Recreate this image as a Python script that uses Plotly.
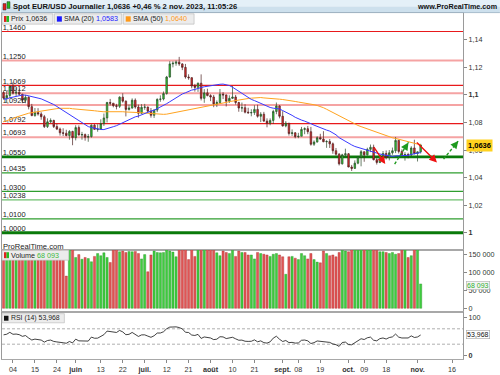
import numpy as np
import pandas as pd
import plotly.graph_objects as go

# ---------------- data ----------------
start_date = "2023-05-01"
axis_end_date = "2023-11-30"

opens = [1.1017, 1.0977, 1.0996, 1.1063, 1.1013, 1.1020, 1.1005, 1.0962, 1.0983, 1.0915,
         1.0850, 1.0872, 1.0862, 1.0842, 1.0770, 1.0805, 1.0815, 1.0770, 1.0752, 1.0725,
         1.0722, 1.0705, 1.0735, 1.0690, 1.0763, 1.0710, 1.0712, 1.0693, 1.0698, 1.0780,
         1.0750, 1.0752, 1.0792, 1.0833, 1.0945, 1.0940, 1.0922, 1.0917, 1.0984, 1.0955,
         1.0895, 1.0905, 1.0962, 1.0912, 1.0867, 1.0910, 1.0912, 1.0882, 1.0852, 1.0890,
         1.0968, 1.0970, 1.1010, 1.1130, 1.1225, 1.1230, 1.1238, 1.1225, 1.1200, 1.1130,
         1.1125, 1.1065, 1.1055, 1.1085, 1.0975, 1.1015, 1.0995, 1.0985, 1.0935, 1.0945,
         1.1005, 1.1000, 1.0955, 1.0975, 1.0985, 1.0945, 1.0905, 1.0907, 1.0875, 1.0870,
         1.0872, 1.0895, 1.0845, 1.0860, 1.0810, 1.0795, 1.0815, 1.0880, 1.0920, 1.0845,
         1.0775, 1.0795, 1.0720, 1.0725, 1.0697, 1.0700, 1.0750, 1.0755, 1.0733, 1.0642,
         1.0658, 1.0690, 1.0680, 1.0660, 1.0662, 1.0645, 1.0595, 1.0570, 1.0500, 1.0565,
         1.0573, 1.0477, 1.0467, 1.0505, 1.0550, 1.0588, 1.0565, 1.0605, 1.0620, 1.0530,
         1.0510, 1.0560, 1.0575, 1.0545, 1.0580, 1.0595, 1.0670, 1.0590, 1.0565, 1.0567,
         1.0565, 1.0615, 1.0575, 1.0587]
highs = [1.1028, 1.1030, 1.1068, 1.1092, 1.1055, 1.1046, 1.1008, 1.1000, 1.0990, 1.0935,
         1.0905, 1.0904, 1.0875, 1.0855, 1.0830, 1.0830, 1.0820, 1.0790, 1.0763, 1.0758,
         1.0747, 1.0745, 1.0740, 1.0780, 1.0779, 1.0732, 1.0720, 1.0716, 1.0787, 1.0788,
         1.0787, 1.0823, 1.0865, 1.0950, 1.0971, 1.0940, 1.0935, 1.0990, 1.1012, 1.0960,
         1.0930, 1.0975, 1.0975, 1.0930, 1.0933, 1.0935, 1.0915, 1.0905, 1.0895, 1.0975,
         1.0997, 1.1025, 1.1138, 1.1245, 1.1244, 1.1250, 1.1276, 1.1230, 1.1225, 1.1150,
         1.1128, 1.1080, 1.1090, 1.1149, 1.1042, 1.1045, 1.1005, 1.1000, 1.0960, 1.1043,
         1.1020, 1.1002, 1.0997, 1.1065, 1.1000, 1.0950, 1.0945, 1.0933, 1.0907, 1.0896,
         1.0925, 1.0929, 1.0875, 1.0877, 1.0830, 1.0830, 1.0892, 1.0945, 1.0925, 1.0882,
         1.0810, 1.0795, 1.0750, 1.0730, 1.0725, 1.0768, 1.0765, 1.0775, 1.0768, 1.0670,
         1.0700, 1.0718, 1.0737, 1.0672, 1.0680, 1.0655, 1.0615, 1.0578, 1.0573, 1.0610,
         1.0578, 1.0492, 1.0525, 1.0552, 1.0600, 1.0588, 1.0617, 1.0640, 1.0639, 1.0545,
         1.0564, 1.0593, 1.0597, 1.0600, 1.0618, 1.0695, 1.0674, 1.0605, 1.0585, 1.0580,
         1.0628, 1.0675, 1.0590, 1.0645]
lows = [1.0968, 1.0942, 1.0978, 1.1003, 1.0990, 1.0998, 1.0940, 1.0940, 1.0895, 1.0846,
        1.0842, 1.0850, 1.0820, 1.0760, 1.0760, 1.0795, 1.0760, 1.0745, 1.0705, 1.0702,
        1.0700, 1.0675, 1.0635, 1.0670, 1.0705, 1.0675, 1.0668, 1.0660, 1.0690, 1.0749,
        1.0733, 1.0748, 1.0775, 1.0800, 1.0923, 1.0910, 1.0895, 1.0905, 1.0944, 1.0844,
        1.0887, 1.0900, 1.0900, 1.0835, 1.0864, 1.0892, 1.0870, 1.0835, 1.0833, 1.0875,
        1.0950, 1.0960, 1.1002, 1.1125, 1.1200, 1.1212, 1.1211, 1.1180, 1.1118, 1.1110,
        1.1048, 1.1024, 1.1022, 1.0960, 1.0943, 1.0990, 1.0955, 1.0911, 1.0912, 1.0935,
        1.0970, 1.0916, 1.0942, 1.0970, 1.0930, 1.0878, 1.0877, 1.0866, 1.0865, 1.0845,
        1.0855, 1.0835, 1.0803, 1.0805, 1.0765, 1.0780, 1.0790, 1.0860, 1.0830, 1.0770,
        1.0765, 1.0705, 1.0702, 1.0685, 1.0686, 1.0700, 1.0715, 1.0715, 1.0632, 1.0630,
        1.0655, 1.0675, 1.0657, 1.0616, 1.0615, 1.0573, 1.0560, 1.0488, 1.0495, 1.0552,
        1.0475, 1.0448, 1.0465, 1.0497, 1.0482, 1.0515, 1.0560, 1.0585, 1.0525, 1.0495,
        1.0505, 1.0522, 1.0532, 1.0525, 1.0566, 1.0578, 1.0575, 1.0557, 1.0523, 1.0540,
        1.0555, 1.0568, 1.0517, 1.0575]
closes = [1.0977, 1.0996, 1.1063, 1.1013, 1.1020, 1.1005, 1.0962, 1.0983, 1.0915, 1.0850,
          1.0872, 1.0862, 1.0842, 1.0770, 1.0805, 1.0815, 1.0770, 1.0752, 1.0725, 1.0722,
          1.0705, 1.0735, 1.0690, 1.0763, 1.0710, 1.0712, 1.0693, 1.0698, 1.0780, 1.0750,
          1.0752, 1.0792, 1.0833, 1.0945, 1.0940, 1.0922, 1.0917, 1.0984, 1.0955, 1.0895,
          1.0905, 1.0962, 1.0912, 1.0867, 1.0910, 1.0912, 1.0882, 1.0852, 1.0890, 1.0968,
          1.0970, 1.1010, 1.1130, 1.1225, 1.1230, 1.1238, 1.1225, 1.1200, 1.1130, 1.1125,
          1.1065, 1.1055, 1.1085, 1.0975, 1.1015, 1.0995, 1.0985, 1.0935, 1.0945, 1.1005,
          1.1000, 1.0955, 1.0975, 1.0985, 1.0945, 1.0905, 1.0907, 1.0875, 1.0870, 1.0872,
          1.0895, 1.0845, 1.0860, 1.0810, 1.0795, 1.0815, 1.0880, 1.0920, 1.0845, 1.0775,
          1.0795, 1.0720, 1.0725, 1.0697, 1.0700, 1.0750, 1.0755, 1.0733, 1.0642, 1.0658,
          1.0690, 1.0680, 1.0660, 1.0662, 1.0645, 1.0595, 1.0570, 1.0500, 1.0565, 1.0573,
          1.0477, 1.0467, 1.0505, 1.0550, 1.0588, 1.0565, 1.0605, 1.0620, 1.0530, 1.0510,
          1.0560, 1.0575, 1.0545, 1.0580, 1.0595, 1.0670, 1.0590, 1.0565, 1.0567, 1.0565,
          1.0615, 1.0575, 1.0587, 1.0636]
volumes = [165000, 160000, 170000, 170000, 168000, 158000, 165000, 162000, 170000, 170000,
           160000, 158000, 162000, 170000, 165000, 155000, 160000, 158000, 165000, 150000,
           90000, 170000, 168000, 142000, 150000, 137000, 142000, 139000, 130000, 145000,
           153000, 147000, 155000, 142000, 128000, 162000, 170000, 158000, 160000, 156000,
           159000, 158000, 159000, 153000, 138000, 150000, 102000, 149000, 160000, 156000,
           155000, 156000, 165000, 160000, 157000, 144000, 170000, 170000, 170000, 136000,
           170000, 145000, 170000, 170000, 170000, 170000, 170000, 162000, 155000, 147000,
           160000, 156000, 153000, 162000, 145000, 160000, 156000, 156000, 149000, 149000,
           138000, 156000, 153000, 151000, 149000, 145000, 151000, 153000, 149000, 144000,
           95000, 144000, 145000, 140000, 136000, 153000, 147000, 138000, 153000, 136000,
           129000, 127000, 160000, 153000, 147000, 149000, 144000, 156000, 162000, 160000,
           158000, 170000, 170000, 170000, 170000, 170000, 170000, 170000, 170000, 162000,
           158000, 158000, 156000, 153000, 156000, 151000, 153000, 162000, 170000, 142000,
           147000, 170000, 170000, 68093]
# closes before the visible window (Feb 6 - Apr 28), only used to warm up SMA / RSI
warmup_closes = [1.0725, 1.0730, 1.0715, 1.0740, 1.0680, 1.0725, 1.0740, 1.0690, 1.0675, 1.0695,
                 1.0685, 1.0645, 1.0605, 1.0595, 1.0545, 1.0605, 1.0575, 1.0665, 1.0595, 1.0635,
                 1.0685, 1.0550, 1.0545, 1.0580, 1.0640, 1.0730, 1.0730, 1.0575, 1.0610, 1.0670,
                 1.0720, 1.0770, 1.0860, 1.0830, 1.0760, 1.0800, 1.0845, 1.0845, 1.0905, 1.0840,
                 1.0900, 1.0955, 1.0905, 1.0920, 1.0905, 1.0860, 1.0915, 1.0990, 1.1045, 1.0990,
                 1.0925, 1.0970, 1.0955, 1.0970, 1.0990, 1.1045, 1.0975, 1.1040, 1.1030, 1.1020]

levels = [1.1460, 1.1250, 1.1069, 1.1012, 1.0926, 1.0792, 1.0693,
          1.0550, 1.0435, 1.0300, 1.0238, 1.0100, 1.0000]

tick_dates = ["2023-05-04", "2023-05-15", "2023-05-24", "2023-06-01", "2023-06-13",
              "2023-06-22", "2023-07-03", "2023-07-12", "2023-07-21", "2023-08-01",
              "2023-08-10", "2023-08-21", "2023-09-01", "2023-09-08", "2023-09-19",
              "2023-10-02", "2023-10-09", "2023-10-18", "2023-11-01", "2023-11-16"]
tick_labels = ["04", "15", "24", "<b>juin</b>", "13", "22", "<b>juil.</b>", "12", "21",
               "<b>août</b>", "10", "21", "<b>sept.</b>", "08", "19", "<b>oct.</b>", "09",
               "18", "<b>nov.</b>", "16"]

price_ticks = [1.00, 1.02, 1.04, 1.06, 1.08, 1.10, 1.12, 1.14]
price_tick_labels = ["<b>1</b>", "1,02", "1,04", "1,06", "1,08", "<b>1,1</b>", "1,12", "1,14"]
volume_ticks = [0, 50000, 100000, 150000]
volume_tick_labels = ["0", "50 000", "100 000", "150 000"]
rsi_ticks = [0, 100]
rsi_tick_labels = ["<b>0</b>", "100"]
rsi_bands = [30, 70]
rsi_last = 53.968
sma20_last_label = "1,0583"
sma50_last_label = "1,0640"
title_text = "Spot EUR/USD Journalier 1,0636 +0,46 % 2 nov. 2023, 11:05:26"

# user-drawn arrows (bar index, price) -> (bar index, price)
red_arrows = [(117.8, 1.0630, 121.7, 1.0498), (131.3, 1.0666, 138.2, 1.0510)]
green_arrows = [(124.7, 1.0498, 129.1, 1.0655), (140.3, 1.0534, 145.0, 1.0666)]

# ---------------- derived ----------------
n = len(closes)
assert len(opens) == n and len(highs) == n and len(lows) == n and len(volumes) == n
full_days = pd.bdate_range(start_date, axis_end_date)
pos = {d: k for k, d in enumerate(full_days)}
x = list(range(n))
tickvals = [pos[pd.Timestamp(d)] for d in tick_dates]

allc = pd.Series(warmup_closes + closes)
w = len(warmup_closes)
sma20 = allc.rolling(20).mean().iloc[w:].tolist()
sma50 = allc.rolling(50).mean().iloc[w:].tolist()
delta = allc.diff()
gain = delta.clip(lower=0).ewm(alpha=1 / 14, adjust=False).mean()
loss = (-delta.clip(upper=0)).ewm(alpha=1 / 14, adjust=False).mean()
rsi = (100 - 100 / (1 + gain / loss)).iloc[w:].tolist()

vol_colors = ['#3fcc3f' if c >= o else '#e05555' for o, c in zip(opens, closes)]
vol_lines = ['#2a962a' if c >= o else '#b03030' for o, c in zip(opens, closes)]

def fmt(v, d=4):
    return f"{v:.{d}f}".replace(".", ",")

def fmt_int(v):
    return f"{int(v):,}".replace(",", " ")

# ---------------- geometry helpers ----------------
W, H = 500, 375
ML, MR, MT, MB = 1, 37, 13, 14
PW, PH = W - ML - MR, H - MT - MB

def PX(X):
    return (X - ML) / PW

def PY(Y):
    return (H - MB - Y) / PH

FONT = "Liberation Sans, Arial, sans-serif"

level_styles = {
    1.1460: ('#e8191b', 1.1), 1.1250: ('#f5a3a3', 2), 1.1069: ('#e8191b', 1.1),
    1.1012: ('#f5a3a3', 2), 1.0926: ('#f5a3a3', 2), 1.0792: ('#e8191b', 1.1),
    1.0693: ('#f5a3a3', 2), 1.0550: ('#0a7a0a', 2.8), 1.0435: ('#2f9e2f', 1.2),
    1.0300: ('#2f9e2f', 1.2), 1.0238: ('#6cc06c', 1.2), 1.0100: ('#2f9e2f', 1.2),
    1.0000: ('#0a7a0a', 2.8),
}

fig = go.Figure()

# level labels (drawn under candles)
fig.add_trace(go.Scatter(
    x=[-0.3] * len(levels), y=levels, mode='text',
    text=[fmt(v) for v in levels], textposition='top right',
    textfont=dict(size=7.5, color='#222', family=FONT),
    xaxis='x', yaxis='y', hoverinfo='skip', showlegend=False, cliponaxis=False))

fig.add_trace(go.Candlestick(
    x=x, open=opens, high=highs, low=lows, close=closes,
    increasing=dict(line=dict(color='#2b4a2b', width=0.7), fillcolor='#2fcc2f'),
    decreasing=dict(line=dict(color='#4a2020', width=0.7), fillcolor='#e62a2a'),
    whiskerwidth=0, xaxis='x', yaxis='y', showlegend=False, hoverinfo='skip'))

fig.add_trace(go.Scatter(x=x, y=sma50, mode='lines', line=dict(color='#ffa31f', width=1),
                         xaxis='x', yaxis='y', showlegend=False, hoverinfo='skip'))
fig.add_trace(go.Scatter(x=x, y=sma20, mode='lines', line=dict(color='#3a3aff', width=1),
                         xaxis='x', yaxis='y', showlegend=False, hoverinfo='skip'))

# green dashed arrow shafts
for (x0, y0, x1, y1) in green_arrows:
    fig.add_trace(go.Scatter(x=[x0, x1], y=[y0, y1], mode='lines',
                             line=dict(color='#1e9a1e', width=1.4, dash='3px,2px'),
                             xaxis='x', yaxis='y', showlegend=False, hoverinfo='skip'))

fig.add_trace(go.Bar(x=x, y=volumes, marker=dict(color=vol_colors, line=dict(color=vol_lines, width=0.4)),
                     xaxis='x2', yaxis='y2', showlegend=False, hoverinfo='skip'))

fig.add_trace(go.Scatter(x=x, y=rsi, mode='lines', line=dict(color='#111', width=0.8),
                         xaxis='x3', yaxis='y3', showlegend=False, hoverinfo='skip'))

shapes = []
for v in levels:
    col, wd = level_styles[v]
    shapes.append(dict(type='line', xref='x domain', yref='y', x0=0, x1=1, y0=v, y1=v,
                       line=dict(color=col, width=wd), layer='below'))
for b in rsi_bands:
    shapes.append(dict(type='line', xref='x3 domain', yref='y3', x0=0, x1=1, y0=b, y1=b,
                       line=dict(color='#9a9a9a', width=0.8, dash='3px,2px'), layer='below'))

def rect(X0, Y0, X1, Y1, fill, line='rgba(0,0,0,0)', lw=0.6):
    shapes.append(dict(type='rect', xref='paper', yref='paper', x0=PX(X0), x1=PX(X1),
                       y0=PY(Y1), y1=PY(Y0), fillcolor=fill, line=dict(color=line, width=lw),
                       layer='above'))

# title bar
rect(0, 0, 500, 6.5, '#e4f0f8')
rect(0, 6.5, 500, 12.6, '#cde0ed')
shapes.append(dict(type='line', xref='paper', yref='paper', x0=PX(0), x1=PX(500),
                   y0=PY(12.6), y1=PY(12.6), line=dict(color='#97afc0', width=0.8)))
rect(2, 3.5, 5, 10, '#e02020', '#333', 0.5)
rect(6, 1.6, 9, 8.4, '#22bb22', '#333', 0.5)
# legend boxes
rect(1, 13.8, 52, 24.2, '#ececec', '#b5b5b5')
rect(3, 16, 5.5, 22, '#e02020')
rect(5.5, 16, 8, 22, '#22bb22')
rect(53.5, 13.8, 121, 24.2, '#ececec', '#b5b5b5')
rect(56, 16.3, 61, 21.7, '#1a1aff')
rect(122.5, 13.8, 193.5, 24.2, '#ececec', '#b5b5b5')
rect(125, 16.3, 130, 21.7, '#ff9a1a')
rect(1, 251.6, 68, 261.6, '#ececec', '#b5b5b5')
rect(3, 253.6, 5.5, 259.6, '#e02020')
rect(5.5, 253.6, 8, 259.6, '#22bb22')
rect(1, 315.4, 63.5, 324.6, '#ececec', '#b5b5b5')
rect(3, 317.5, 7.5, 322.5, '#111')

ann = []

def text(X, Y, s, size=7, color='#111', anchor='left', bold=False):
    ann.append(dict(xref='paper', yref='paper', x=PX(X), y=PY(Y), text=f"<b>{s}</b>" if bold else s,
                    showarrow=False, xanchor=anchor, yanchor='middle', borderpad=0,
                    font=dict(size=size, color=color, family=FONT)))

text(11.5, 6.6, title_text, 7.6, '#111', bold=True)
text(498.5, 6.6, "www.ProRealTime.com", 7.2, '#111', 'right', bold=True)
text(9.5, 19, "Prix " + fmt(closes[-1]), 7.2, '#222')
text(62.5, 19, f"SMA (20) <span style='color:#2323ff'>{sma20_last_label}</span>", 7.2, '#222')
text(131.5, 19, f"SMA (50) <span style='color:#ff9a1a'>{sma50_last_label}</span>", 7.2, '#222')
text(1.5, 247.6, "ProRealTime.com", 7.6, '#222')
text(9.5, 256.6, f"Volume <span style='color:#3cb83c'>{fmt_int(volumes[-1])}</span>", 7.2, '#222')
text(9, 320, f"RSI (14) {fmt(rsi_last, 3)}", 6.9, '#222')

# right side value boxes
ann.append(dict(xref='paper', yref='y', x=PX(466.5), y=closes[-1], xanchor='left', yanchor='middle',
                text=f"<b>{fmt(closes[-1])}</b>", showarrow=False, bgcolor='#ffd21f', borderpad=1,
                font=dict(size=7.5, color='#000', family=FONT)))
ann.append(dict(xref='paper', yref='y2', x=PX(466.5), y=volumes[-1] - 5000, xanchor='left', yanchor='middle',
                text=fmt_int(volumes[-1]), showarrow=False, bgcolor='#f4f4f4', bordercolor='#b0b0b0',
                borderwidth=0.6, borderpad=0.5, font=dict(size=7, color='#2fae2f', family=FONT)))
ann.append(dict(xref='paper', yref='y3', x=PX(466.5), y=rsi_last, xanchor='left', yanchor='middle',
                text=fmt(rsi_last, 3), showarrow=False, bgcolor='#ffffff', bordercolor='#a0a0a0',
                borderwidth=0.6, borderpad=0.5, font=dict(size=7, color='#111', family=FONT)))

# arrows
for (x0, y0, x1, y1) in red_arrows:
    ann.append(dict(xref='x', yref='y', axref='x', ayref='y', x=x1, y=y1, ax=x0, ay=y0, text='',
                    showarrow=True, arrowhead=2, arrowsize=1.1, arrowwidth=1.4, arrowcolor='#ee1111'))
for (x0, y0, x1, y1) in green_arrows:
    mx, my = x0 + 0.7 * (x1 - x0), y0 + 0.7 * (y1 - y0)
    ann.append(dict(xref='x', yref='y', axref='x', ayref='y', x=x1, y=y1, ax=mx, ay=my, text='',
                    showarrow=True, arrowhead=2, arrowsize=1.1, arrowwidth=1.4, arrowcolor='#1e9a1e'))

xr = [-0.5, 146.5]
axis_common = dict(showgrid=False, zeroline=False, showline=True, mirror=True, linecolor='#a8a8a8',
                   linewidth=1)
yax_common = dict(showgrid=False, zeroline=False, showline=True, mirror=True, linecolor='#9a9a9a',
                  linewidth=1, side='right', ticks='outside', ticklen=3, tickcolor='#888',
                  tickfont=dict(size=7.2, color='#333', family=FONT))

fig.update_layout(
    width=W, height=H, margin=dict(l=ML, r=MR, t=MT, b=MB, pad=0),
    paper_bgcolor='white', plot_bgcolor='white', showlegend=False, bargap=0.3,
    font=dict(family=FONT),
    xaxis=dict(domain=[0, 1], anchor='y', range=xr, showticklabels=False, ticks='',
               rangeslider=dict(visible=False), **axis_common),
    xaxis2=dict(domain=[0, 1], anchor='y2', range=xr, matches='x', showticklabels=False, ticks='',
                **axis_common),
    xaxis3=dict(domain=[0, 1], anchor='y3', range=xr, matches='x', tickmode='array', tickvals=tickvals,
                ticktext=tick_labels, ticks='outside', ticklen=3, tickcolor='#888',
                tickfont=dict(size=7.2, color='#333', family=FONT), **axis_common),
    yaxis=dict(domain=[PY(251), 1], anchor='x', range=[1 + (234 - 251) / 1386, 1 + (234 - 13) / 1386],
               tickmode='array', tickvals=price_ticks, ticktext=price_tick_labels, **yax_common),
    yaxis2=dict(domain=[PY(314), PY(251)], anchor='x2', range=[-11100, 163900], tickmode='array',
                tickvals=volume_ticks, ticktext=volume_tick_labels, **yax_common),
    yaxis3=dict(domain=[0, PY(314)], anchor='x3', range=[-8.5, 113], tickmode='array',
                tickvals=rsi_ticks, ticktext=rsi_tick_labels, **yax_common),
    shapes=shapes, annotations=ann,
)

fig.write_html("out.html", config={'displayModeBar': False},
               post_script="document.body.style.margin='0';document.body.style.overflow='hidden';")
